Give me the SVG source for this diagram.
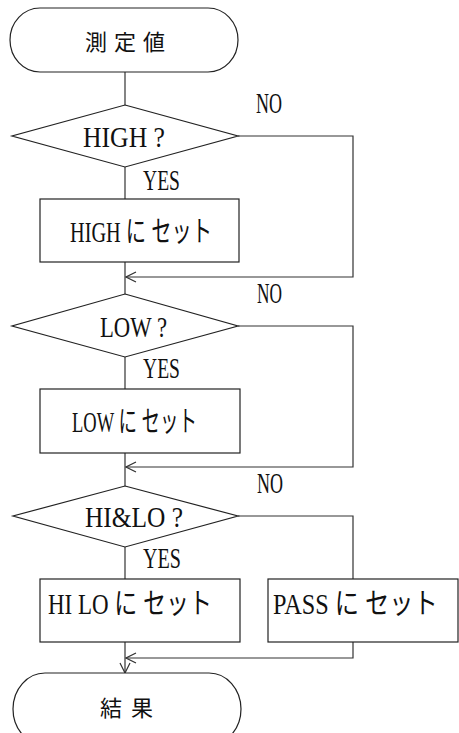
<svg xmlns="http://www.w3.org/2000/svg" width="459" height="733" viewBox="0 0 459 733">
<defs>
<style>
.shape{fill:#fff;stroke:#222;stroke-width:1.2}
.line{fill:none;stroke:#333;stroke-width:1.2}
.t{font-family:"Liberation Serif","Noto Sans CJK JP",serif;font-size:29px;fill:#111}
.j{font-family:"Noto Sans CJK JP",sans-serif;font-size:22px;fill:#111}
</style>
<marker id="arr" viewBox="0 0 12 12" refX="11" refY="6" markerWidth="12" markerHeight="12" markerUnits="userSpaceOnUse" orient="auto">
<path d="M1,1 L11,6 L1,11" fill="none" stroke="#333" stroke-width="1.2"/>
</marker>
</defs>
<rect width="459" height="733" fill="#fff"/>
<g id="connectors">
<line class="line" x1="125" y1="72" x2="125" y2="105"/>
<polyline class="line" points="238,136 353,136 353,277 126,277" marker-end="url(#arr)"/>
<line class="line" x1="125" y1="167" x2="125" y2="199"/>
<line class="line" x1="125" y1="262" x2="125" y2="294"/>
<polyline class="line" points="238,326 353,326 353,467 126,467" marker-end="url(#arr)"/>
<line class="line" x1="125" y1="357" x2="125" y2="389"/>
<line class="line" x1="125" y1="453" x2="125" y2="486"/>
<polyline class="line" points="238,516 353,516 353,579"/>
<line class="line" x1="125" y1="547" x2="125" y2="579"/>
<polyline class="line" points="353,642 353,658 126,658" marker-end="url(#arr)"/>
<line class="line" x1="125" y1="642" x2="125" y2="673" marker-end="url(#arr)"/>
<text class="t" x="256" y="113" font-size="25" textLength="26" lengthAdjust="spacingAndGlyphs">NO</text>
<text class="t" x="143" y="190" textLength="37" lengthAdjust="spacingAndGlyphs">YES</text>
<text class="t" x="257" y="303" textLength="25" lengthAdjust="spacingAndGlyphs">NO</text>
<text class="t" x="143" y="378" textLength="37" lengthAdjust="spacingAndGlyphs">YES</text>
<text class="t" x="257" y="493" font-size="26" textLength="26" lengthAdjust="spacingAndGlyphs">NO</text>
<text class="t" x="143" y="568" textLength="38" lengthAdjust="spacingAndGlyphs">YES</text>
</g>
<g id="start">
<rect class="shape" x="10" y="8" width="228" height="64" rx="30" ry="32"/>
<text class="j" x="85" y="50" textLength="80" lengthAdjust="spacing">測定値</text>
</g>
<g id="high-check">
<polygon class="shape" points="125,105 238,136 125,167 12,136"/>
<text class="t" x="83" y="147" textLength="82" lengthAdjust="spacingAndGlyphs">HIGH ?</text>
</g>
<g id="set-high">
<rect class="shape" x="40" y="199" width="199" height="63"/>
<text class="t" x="70" y="242" textLength="142" lengthAdjust="spacingAndGlyphs">HIGH に セット</text>
</g>
<g id="low-check">
<polygon class="shape" points="125,294 238,326 125,357 12,326"/>
<text class="t" x="100" y="337" textLength="67" lengthAdjust="spacingAndGlyphs">LOW ?</text>
</g>
<g id="set-low">
<rect class="shape" x="40" y="389" width="200" height="64"/>
<text class="t" x="72" y="432" textLength="125" lengthAdjust="spacingAndGlyphs">LOW に セット</text>
</g>
<g id="hilo-check">
<polygon class="shape" points="125,486 238,516 125,547 13,516"/>
<text class="t" x="85" y="527" textLength="98" lengthAdjust="spacingAndGlyphs">HI&amp;LO ?</text>
</g>
<g id="set-hilo">
<rect class="shape" x="40" y="579" width="200" height="63"/>
<text class="t" x="48" y="614" textLength="164" lengthAdjust="spacingAndGlyphs">HI LO に セット</text>
</g>
<g id="set-pass">
<rect class="shape" x="268" y="579" width="190" height="63"/>
<text class="t" transform="translate(273,614) scale(0.8,1)" x="0" y="0" textLength="206" lengthAdjust="spacingAndGlyphs">PASS に セット</text>
</g>
<g id="result">
<rect class="shape" x="13" y="673" width="228" height="72" rx="32" ry="36"/>
<text class="j" x="100" y="716" font-size="24" textLength="53" lengthAdjust="spacing">結果</text>
</g>
</svg>
